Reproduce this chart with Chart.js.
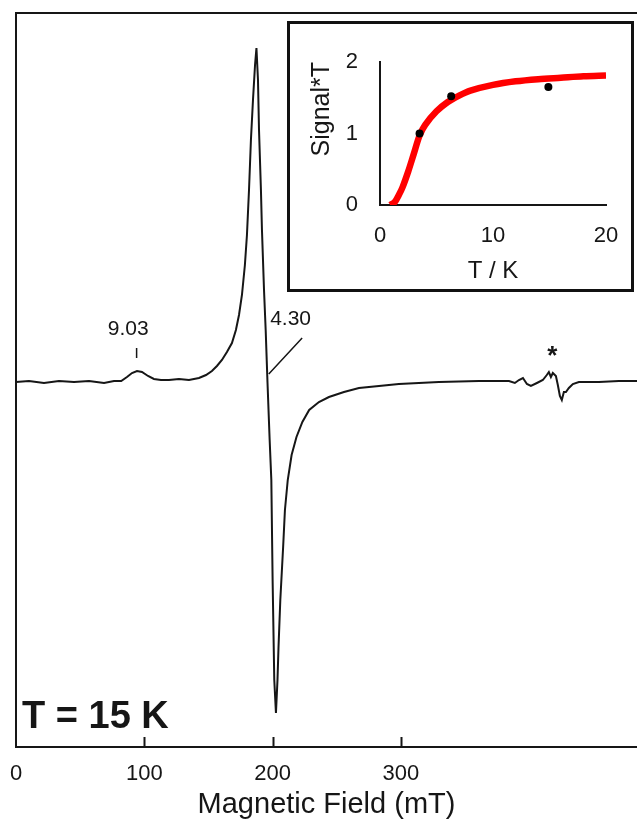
<!DOCTYPE html>
<html lang="en">

<head>
    <meta charset="UTF-8">
    <title>EPR spectrum, T = 15 K</title>
    <script src="https://cdn.jsdelivr.net/npm/chart.js"></script>
    <style>
        body { margin: 0; background: #fff; }
        #wrap { position: relative; width: 637px; height: 833px; }
        #insetBox {
            position: absolute; left: 287px; top: 21px;
            width: 347px; height: 271px; box-sizing: border-box;
            border: 3px solid #111; background: #fff;
        }
    </style>
</head>

<body>
    <div id="wrap">
        <canvas id="mainChart" width="637" height="833"></canvas>
        <div id="insetBox"><canvas id="insetChart" width="341" height="265"></canvas></div>
    </div>

    <script>
        // main spectrum (field in mT as on the axis, signal in arb. units)
        const fieldMT = [0, 10.1, 21.8, 33.5, 45.2, 56.9, 68.6, 76.4, 82.0, 86.5, 90.4, 94.3, 98.2, 102.9,
            107.5, 113.0, 119.2, 127.0, 134.8, 142.6, 148.1, 152.7, 156.6, 160.5, 164.4, 168.3, 171.4,
            173.8, 176.1, 178.4, 180.0, 181.6, 183.1, 184.7, 186.3, 187.4, 188.6, 189.4, 190.9, 191.7,
            193.3, 194.6, 196.0, 197.7, 199.0, 200.0, 201.3, 202.6, 203.8, 204.6, 206.0, 208.2, 209.6,
            211.8, 214.8, 218.6, 223.2, 228.5, 236.1, 243.9, 255.6, 267.3, 282.9, 298.4, 314.0, 329.6,
            345.2, 360.8, 376.4, 384.2, 388.8, 392.0, 395.1, 398.2, 401.3, 406.0, 410.6, 413.7, 415.3,
            416.9, 418.4, 420.8, 422.3, 423.9, 425.4, 427.0, 428.6, 430.9, 434.0, 438.7, 454.3, 469.9, 484];
        const signal = [0, 0.01, -0.01, 0.01, 0, 0.01, -0.01, 0.01, 0.01, 0.05, 0.09, 0.11, 0.10, 0.06,
            0.03, 0.02, 0.02, 0.03, 0.02, 0.04, 0.07, 0.11, 0.16, 0.22, 0.30, 0.39, 0.52,
            0.67, 0.87, 1.17, 1.47, 1.92, 2.42, 2.82, 3.17, 3.34, 3.02, 2.52, 1.92, 1.52,
            0.92, 0.52, 0, -0.58, -0.98, -1.98, -2.98, -3.31, -2.98, -2.65, -2.18, -1.65, -1.28,
            -0.98, -0.73, -0.55, -0.40, -0.28, -0.20, -0.15, -0.10, -0.06, -0.04, -0.02, -0.01, 0,
            0.005, 0.01, 0.01, 0.01, -0.01, 0.02, 0.04, -0.02, -0.04, -0.01, 0.02, 0.07, 0.10,
            0.05, 0.09, 0.06, -0.03, -0.14, -0.18, -0.10, -0.10, -0.06, -0.02, 0, 0, 0.01, 0.01];
        const fieldTicks = [0, 100, 200, 300];

        // inset: Signal*T against T
        const measT = [3.5, 6.3, 14.9];
        const measST = [1.0, 1.52, 1.65];
        const fitT = [0.9, 1.3, 1.7, 2.0, 2.5, 3.0, 3.5, 4.0, 5.0, 6.0, 7.0, 8.0, 10, 12, 14, 16, 18, 20];
        const fitST = [0, 0.04, 0.15, 0.25, 0.47, 0.72, 0.97, 1.12, 1.31, 1.44, 1.53, 1.60, 1.68, 1.73, 1.76, 1.78, 1.80, 1.81];
        const insetXTicks = [0, 10, 20];
        const insetYTicks = [0, 1, 2];

        const FONT = "'Liberation Sans', Arial, sans-serif";
        const INK = '#161616';

        // top frame line, inward x ticks and the text marks on the spectrum
        const spectrumDecor = {
            id: 'spectrumDecor',
            afterDraw(chart) {
                const { ctx, chartArea: a, scales: { x, y } } = chart;
                ctx.save();
                ctx.strokeStyle = INK;
                ctx.lineWidth = 2;
                ctx.beginPath();
                ctx.moveTo(a.left - 1, a.top);
                ctx.lineTo(a.right, a.top);
                fieldTicks.slice(1).forEach(v => {
                    const px = Math.round(x.getPixelForValue(v)) + 0.5;
                    ctx.moveTo(px, a.bottom);
                    ctx.lineTo(px, a.bottom - 10);
                });
                ctx.stroke();

                ctx.fillStyle = INK;
                ctx.textAlign = 'center';
                ctx.textBaseline = 'middle';
                ctx.font = '21px ' + FONT;
                ctx.fillText('9.03', x.getPixelForValue(87.5), y.getPixelForValue(0.53));
                ctx.fillText('4.30', x.getPixelForValue(214), y.getPixelForValue(0.63));
                ctx.lineWidth = 1.5;
                ctx.beginPath();
                ctx.moveTo(x.getPixelForValue(94), y.getPixelForValue(0.34));
                ctx.lineTo(x.getPixelForValue(94), y.getPixelForValue(0.24));
                ctx.moveTo(x.getPixelForValue(223), y.getPixelForValue(0.44));
                ctx.lineTo(x.getPixelForValue(197), y.getPixelForValue(0.08));
                ctx.stroke();

                ctx.font = 'bold 26px ' + FONT;
                ctx.fillText('*', x.getPixelForValue(418), y.getPixelForValue(0.25));

                ctx.textAlign = 'left';
                ctx.font = 'bold 38px ' + FONT;
                ctx.fillText('T = 15 K', a.left + 6, y.getPixelForValue(-3.36));
                ctx.restore();
            }
        };

        new Chart(document.getElementById('mainChart'), {
            type: 'line',
            data: {
                datasets: [{
                    data: fieldMT.map((f, i) => ({ x: f, y: signal[i] })),
                    borderColor: INK,
                    borderWidth: 2,
                    pointRadius: 0,
                    tension: 0
                }]
            },
            options: {
                responsive: false,
                animation: false,
                events: [],
                layout: { padding: { left: 16, top: 13, right: 0, bottom: 0 } },
                plugins: { legend: { display: false }, tooltip: { enabled: false } },
                scales: {
                    x: {
                        type: 'linear', min: 0, max: 484,
                        afterBuildTicks: s => { s.ticks = fieldTicks.map(v => ({ value: v })); },
                        afterFit: s => { s.height = 86; s.paddingLeft = 0; s.paddingRight = 0; },
                        grid: { display: false, drawTicks: false },
                        border: { display: true, color: INK, width: 2 },
                        ticks: { color: INK, font: { family: FONT, size: 22 }, padding: 14, maxRotation: 0 },
                        title: {
                            display: true, text: 'Magnetic Field (mT)', color: INK,
                            font: { family: FONT, size: 29 }, padding: { top: 0, bottom: 11 }
                        }
                    },
                    y: {
                        min: -3.65, max: 3.69,
                        afterFit: s => { s.width = 0; },
                        grid: { display: false, drawTicks: false },
                        border: { display: true, color: INK, width: 2 },
                        ticks: { display: false }
                    }
                }
            },
            plugins: [spectrumDecor]
        });

        new Chart(document.getElementById('insetChart'), {
            type: 'line',
            data: {
                datasets: [{
                    data: measT.map((t, i) => ({ x: t, y: measST[i] })),
                    showLine: false,
                    pointRadius: 4,
                    pointBackgroundColor: '#000',
                    pointBorderWidth: 0,
                    order: 0
                }, {
                    data: fitT.map((t, i) => ({ x: t, y: fitST[i] })),
                    borderColor: '#ff0000',
                    borderWidth: 6.5,
                    pointRadius: 0,
                    tension: 0.3,
                    borderCapStyle: 'butt',
                    order: 1
                }]
            },
            options: {
                responsive: false,
                animation: false,
                events: [],
                layout: { padding: { left: 0, top: 38, right: 25, bottom: 0 } },
                plugins: { legend: { display: false }, tooltip: { enabled: false } },
                scales: {
                    x: {
                        type: 'linear', min: 0, max: 20,
                        afterBuildTicks: s => { s.ticks = insetXTicks.map(v => ({ value: v })); },
                        afterFit: s => { s.height = 84; s.paddingLeft = 0; s.paddingRight = 0; },
                        grid: { display: false, drawTicks: false },
                        border: { display: true, color: INK, width: 2 },
                        ticks: { color: INK, font: { family: FONT, size: 22 }, padding: 18, maxRotation: 0 },
                        title: {
                            display: true, text: 'T / K', color: INK,
                            font: { family: FONT, size: 24 }, padding: { top: 0, bottom: 3 }
                        }
                    },
                    y: {
                        type: 'linear', min: 0, max: 2,
                        afterBuildTicks: s => { s.ticks = insetYTicks.map(v => ({ value: v })); },
                        afterFit: s => { s.width = 90; },
                        grid: { display: false, drawTicks: false },
                        border: { display: true, color: INK, width: 2 },
                        ticks: { color: INK, font: { family: FONT, size: 22 }, padding: 22 },
                        title: {
                            display: true, text: 'Signal*T', color: INK, align: 'end',
                            font: { family: FONT, size: 25 }, padding: { top: 17, bottom: 0 }
                        }
                    }
                }
            }
        });
    </script>
</body>

</html>
